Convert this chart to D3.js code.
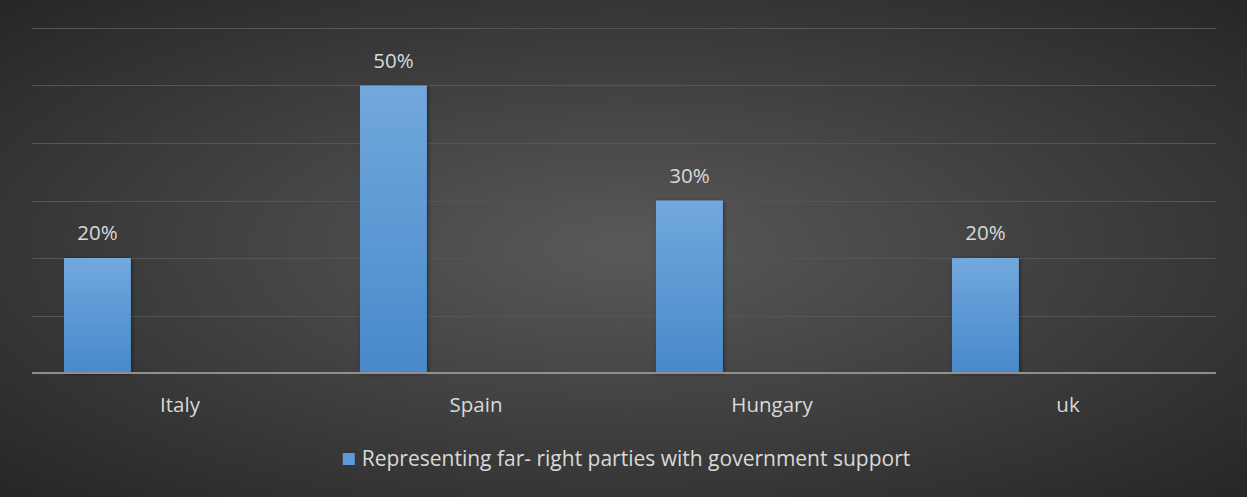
<!DOCTYPE html>
<html><head><meta charset="utf-8">
<script src="https://cdn.jsdelivr.net/npm/d3@7"></script>
<style>html,body{margin:0;padding:0;background:#333;}svg{display:block;}</style>
</head><body>
<svg id="chart" width="1247" height="497"></svg>
<script>
const categories = ["Italy", "Spain", "Hungary", "uk"];
const values = [0.20, 0.50, 0.30, 0.20];
const seriesName = "Representing far- right parties with government support";
const yTicks = [0, 0.1, 0.2, 0.3, 0.4, 0.5, 0.6];

const W = 1247, H = 497;
const svg = d3.select("#chart");
const defs = svg.append("defs");
const bg = defs.append("radialGradient").attr("id","bg")
  .attr("cx","50%").attr("cy","50%").attr("r","75%")
  .attr("gradientUnits","objectBoundingBox");
bg.append("stop").attr("offset","0%").attr("stop-color","#595959");
bg.append("stop").attr("offset","100%").attr("stop-color","#232323");
const bar = defs.append("linearGradient").attr("id","bar").attr("x1",0).attr("y1",0).attr("x2",0).attr("y2",1);
bar.append("stop").attr("offset","0%").attr("stop-color","#72a8dd");
bar.append("stop").attr("offset","100%").attr("stop-color","#4889cb");
const sh = defs.append("filter").attr("id","sh").attr("x","-20%").attr("y","-20%").attr("width","150%").attr("height","150%");
sh.append("feDropShadow").attr("dx",1).attr("dy",1).attr("stdDeviation",2).attr("flood-color","#000").attr("flood-opacity",0.45);

svg.append("rect").attr("width",W).attr("height",H).attr("fill","url(#bg)");

const x0 = 32, x1 = 1216, yBase = 373, yTop = 28;
const x = d3.scaleBand().domain(categories).range([x0, x1]).padding(0);
const y = d3.scaleLinear().domain([0, 0.6]).range([yBase, yTop]);

svg.append("g").selectAll("line").data(yTicks.filter(d => d > 0)).join("line")
  .attr("x1", x0).attr("x2", x1)
  .attr("y1", d => Math.round(y(d)) + 0.5).attr("y2", d => Math.round(y(d)) + 0.5)
  .attr("stroke", "#555555").attr("stroke-width", 1);

const bw = x.bandwidth() * 0.226, off = x.bandwidth() * 0.108;
svg.append("g").selectAll("rect").data(values).join("rect")
  .attr("x", (d,i) => x(categories[i]) + off)
  .attr("y", d => y(d))
  .attr("width", bw)
  .attr("height", d => yBase - y(d))
  .attr("fill", "url(#bar)")
  .attr("filter", "url(#sh)");

const font = "'Open Sans', 'DejaVu Sans', sans-serif";
const fs = 20.5;
svg.append("g").selectAll("text").data(values).join("text")
  .attr("x", (d,i) => x(categories[i]) + off + bw/2)
  .attr("y", d => y(d) - 18)
  .attr("text-anchor","middle")
  .attr("font-family", font).attr("font-size", fs).attr("fill", "#d9d9d9")
  .text(d => d3.format(".0%")(d));

svg.append("line").attr("x1", x0).attr("x2", x1).attr("y1", yBase).attr("y2", yBase)
  .attr("stroke", "#8f8f8f").attr("stroke-width", 2);

const xAxis = d3.axisBottom(x).tickSize(0).tickPadding(0);
const gx = svg.append("g").attr("transform", `translate(0,${yBase})`).call(xAxis);
gx.select(".domain").remove();
gx.selectAll("text").attr("dy", null).attr("y", 39)
  .attr("font-family", font).attr("font-size", fs).attr("fill", "#d9d9d9");

const lg = svg.append("g");
const lt = lg.append("text").attr("x", 362).attr("y", 466)
  .attr("font-family", font).attr("font-size", 21).attr("fill", "#d9d9d9").text(seriesName);
const tw = lt.node().getComputedTextLength();
const total = 12 + 7 + tw;
const lx = (W - total) / 2 + 3;
lg.insert("rect", "text").attr("x", lx).attr("y", 453).attr("width", 12).attr("height", 12).attr("fill", "#5b9bd5");
lt.attr("x", lx + 19);
</script>
</body></html>
